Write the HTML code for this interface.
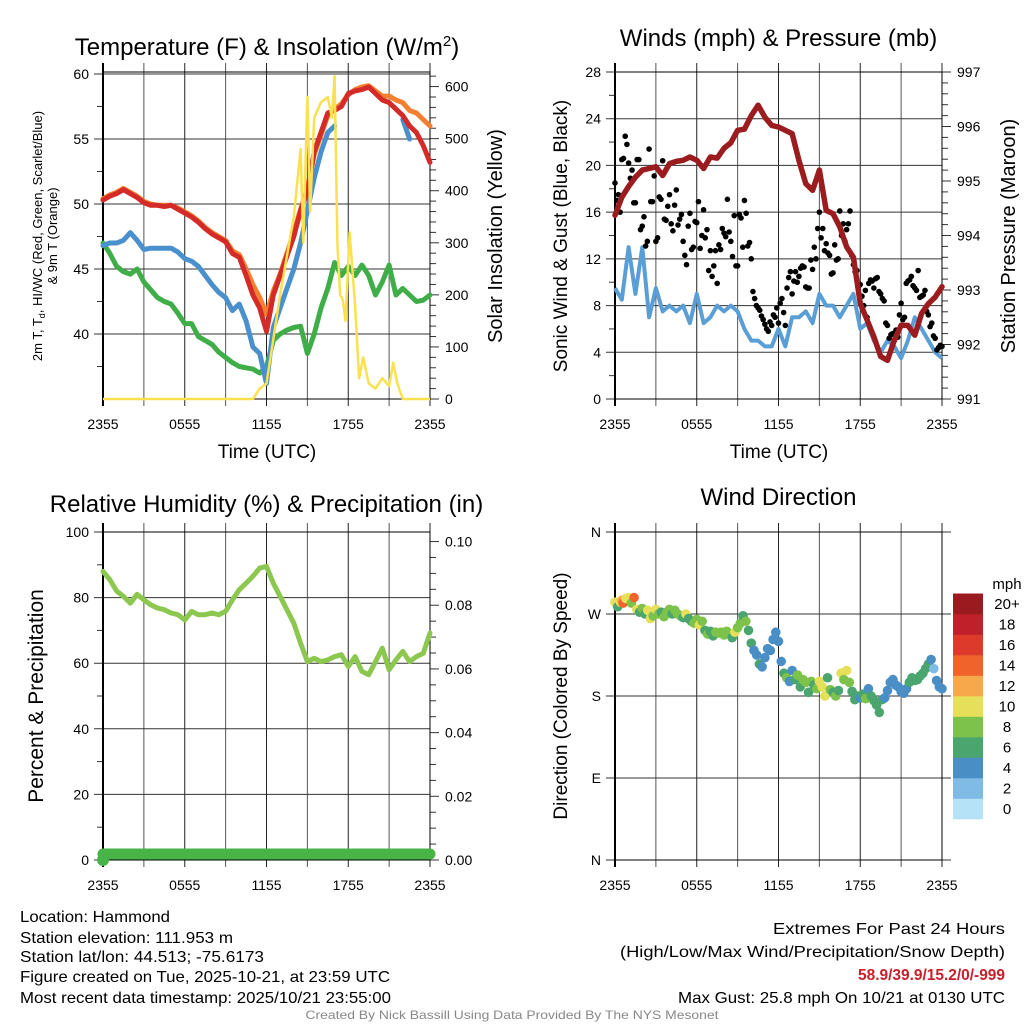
<!DOCTYPE html>
<html><head><meta charset="utf-8">
<style>
html,body{margin:0;padding:0;background:#fff;}
svg{display:block;font-family:"Liberation Sans",sans-serif;}
</style></head>
<body>
<svg id="chart" width="1024" height="1024" viewBox="0 0 1024 1024" xmlns="http://www.w3.org/2000/svg">
<rect width="1024" height="1024" fill="#fff"/>
</svg>
<script>
// ---------- data ----------
const timeTicks = ["2355","0555","1155","1755","2355"];
const halfHours = Array.from({length:49},(_, i)=>i*0.5);
const tempRed = [50.3,50.6,50.8,51.1,50.8,50.5,50.1,49.9,49.9,49.8,49.9,49.6,49.3,49.0,48.6,48.1,47.7,47.4,47.1,46.2,45.9,44.5,43.0,42.0,40.2,43.0,44.5,46.0,47.5,49.5,51.0,54.0,55.5,57.0,57.2,57.5,58.5,58.7,58.8,59.0,58.5,58.0,57.8,57.3,56.8,56.0,55.5,54.5,53.2];
const tempOrange = [50.4,50.7,50.9,51.2,50.9,50.6,50.2,50.0,49.9,49.9,49.9,49.7,49.4,49.1,48.7,48.2,47.8,47.5,47.2,46.4,46.1,45.0,43.8,42.8,41.5,43.3,44.6,46.2,47.8,49.6,51.2,53.8,55.3,56.8,57.3,57.7,58.4,58.8,59.0,59.1,58.7,58.3,58.3,58.0,57.8,57.2,57.0,56.5,56.0];
const tempBlue = [46.8,47.0,47.0,47.2,47.8,47.2,46.5,46.6,46.6,46.6,46.6,46.3,45.8,45.6,45.2,44.5,43.8,43.2,42.8,41.8,42.3,41.0,39.0,38.5,36.2,40.5,42.0,43.5,45.0,47.0,49.5,52.0,54.0,55.5,56.0,null,null,null,null,null,null,null,null,null,56.5,55.0,null,null,null];
const tempGreen = [47.0,46.2,45.2,44.8,44.6,45.0,44.0,43.4,42.8,42.5,42.3,41.6,40.8,40.8,39.8,39.5,39.2,38.6,38.2,37.8,37.5,37.4,37.3,37.0,37.5,39.5,40.0,40.3,40.5,40.6,38.5,40.0,42.0,43.5,45.5,44.5,45.2,44.5,45.3,44.5,43.0,44.0,45.3,43.0,43.5,43.0,42.5,42.6,43.0];
const solarTimes = [0,11,11.5,12,13,14,14.5,14.7,15,15.2,15.5,16,16.5,16.8,17,17.2,17.4,17.6,17.8,18.1,18.5,18.8,19.1,19.5,20,20.5,21,21.3,21.6,22,24];
const solarValues = [0,0,20,30,200,350,480,300,580,360,540,570,580,540,620,300,200,190,150,320,180,40,80,30,20,40,25,70,30,0,0];
const pressure = [994.37,994.7,994.9,995.07,995.2,995.23,995.26,995.1,995.32,995.36,995.38,995.44,995.38,995.23,995.44,995.42,995.6,995.7,995.93,995.95,996.2,996.39,996.17,996.02,995.99,995.93,995.87,995.38,994.95,994.83,995.2,994.46,994.4,994.16,993.79,993.6,992.75,992.45,992.14,991.78,991.71,992.08,992.35,992.35,992.17,992.57,992.75,992.87,993.06];
const windSpeed = [9.5,8.5,13,9,13,7,9.5,7.5,8,7.5,8,6.5,9,6.5,7,8,7.5,8,7.5,6,5,5,4.5,4.5,6,4.5,7,7,7.5,6.5,9,8,8,7,8,9,6,6.5,5,4,5,4.5,3.5,5,7,6,5,4,3.5];
const gustTimes = Array.from({length:97},(_, i)=>i*0.25);
const gustValues = [18.5,17.5,20.5,22.5,20.2,19.6,16.8,20.5,14.8,13.1,21.4,16.9,13.5,17.3,20.4,15.3,17.5,14.4,17.9,15.4,13.5,11.5,15.9,13.0,15.1,12.9,16.2,14.5,12.7,11.4,9.9,12.8,14.2,17.1,13.5,15.7,11.4,15.5,17.0,13.1,12.0,8.6,7.8,7.1,6.4,5.8,6.3,7.0,6.5,8.6,6.3,10.4,9.0,10.9,10.5,11.4,9.6,9.5,11.1,12.0,16.0,14.6,13.3,12.3,10.8,11.9,16.1,15.0,14.5,16.1,11.5,11.0,9.8,8.0,7.0,10.2,9.5,10.4,9.0,8.4,6.3,5.5,5.0,5.3,8.2,7.0,10.1,10.5,9.5,11.0,8.8,9.3,7.2,6.5,5.2,4.4,4.5];
const gustTimes2 = Array.from({length:96},(_, i)=>0.125+i*0.25);
const gustValues2 = [17,16,20.6,21.8,18.9,16.8,20.5,14.5,15.6,13.5,16.9,19.1,13.8,17.1,15.4,16.5,15.0,16.6,14.9,15.8,12.3,14.8,12.8,15.2,16.9,14.0,13.8,11.0,10.5,12.7,13.2,14.6,13.9,14.3,12.2,11.4,15.8,13.0,15.9,13.4,9.2,8.0,7.6,6.8,6.0,6.6,7.2,7.8,8.2,7.4,9.5,10.9,10.1,10.0,11.2,11.3,9.5,11.9,13.0,14.6,13.8,12.7,12.5,10.7,13.2,12.0,14.0,13.5,15.0,12.3,10.9,9.6,8.8,9.3,9.9,10.1,10.3,9.2,8.6,6.5,5.2,5.6,5.9,7.2,6.8,9.9,10.2,9.7,9.3,8.7,8.9,7.5,6.2,5.4,4.2,4.6];
const rhValues = [88,85.5,82,80.4,78.3,81,79.3,77.8,76.8,76.3,75.3,74.8,73.2,75.8,74.8,74.8,75.3,74.8,75.8,79.3,82.4,84.4,86.5,89,89.5,84.4,80.4,76.3,72.2,66.1,60.5,61.5,60.5,61,62,62.6,59,62,57.5,56.5,60.5,64.6,58,61,63.6,60.5,62,63,69.2];
const precipValues = halfHours.map(()=>0);
const dirTimes = [0,0.2,0.4,0.5,0.6,0.8,1.0,1.2,1.4,1.6,1.8,2.0,2.2,2.4,2.6,2.8,3.0,3.2,3.4,3.6,3.8,4.0,4.2,4.4,4.6,4.8,5.0,5.2,5.4,5.6,5.8,6.0,6.2,6.4,6.6,6.8,7.0,7.2,7.4,7.6,7.8,8.0,8.2,8.4,8.6,8.8,9.0,9.2,9.4,9.6,9.8,10.0,10.2,10.4,10.6,10.8,11.0,11.2,11.4,11.6,11.8,12.0,12.2,12.4,12.6,12.8,13.0,13.2,13.4,13.6,13.8,14.0,14.2,14.4,14.6,14.8,15.0,15.2,15.4,15.6,15.8,16.0,16.2,16.4,16.6,16.8,17.0,17.2,17.4,17.6,17.8,18.0,18.2,18.4,18.6,18.8,19.0,19.2,19.4,19.6,19.8,20.0,20.2,20.4,20.6,20.8,21.0,21.2,21.4,21.6,21.8,22.0,22.2,22.4,22.6,22.8,23.0,23.2,23.4,23.6,23.8,24.0];
const dirDegrees = [283,278,283,285,282,287,288,282,288,275,272,276,270,274,265,268,275,270,272,267,272,275,270,274,270,268,266,270,265,262,260,264,258,262,252,248,251,246,250,249,250,247,251,248,244,250,255,260,268,262,252,238,230,225,215,212,222,232,230,242,250,240,218,205,200,196,208,198,203,190,198,195,184,196,192,188,196,190,180,200,187,184,180,186,205,198,208,195,185,176,180,178,182,177,188,180,175,170,162,176,178,186,195,198,192,190,185,183,188,195,200,197,198,202,205,210,215,220,210,197,190,188];
const dirSpeeds = [10,6,10,12,15,10,10,8,14,10,6,8,6,10,10,8,10,8,6,8,8,8,6,8,8,8,6,10,6,6,8,8,10,8,6,8,6,6,8,8,8,8,8,8,6,10,8,8,6,8,6,6,4,4,6,4,4,4,4,4,4,4,4,6,8,4,4,6,8,6,8,8,6,8,6,8,10,10,10,6,8,6,8,6,10,8,10,8,6,6,6,4,6,8,4,6,6,6,6,6,4,4,4,4,4,4,4,4,4,6,6,6,6,6,6,6,6,4,2,4,4,4];
const speedLabels = ["0","2","4","6","8","10","12","14","16","18","20+"];
const speedColors = ["#b5e2f7","#7fbbe5","#4a8ec6","#4aa56f","#7dc24b","#e6df5a","#f6a84a","#f0642c","#de3a2c","#c0202a","#9b1a1f"];

// ---------- helpers ----------
const NS="http://www.w3.org/2000/svg";
const svg=document.getElementById('chart');
function mk(tag,attrs,parent){const e=document.createElementNS(NS,tag);for(const k in attrs)e.setAttribute(k,attrs[k]);(parent||svg).appendChild(e);return e;}
function txt(s,x,y,size,anchor,parent,extra){const t=mk('text',Object.assign({x:x,y:y,'font-size':size,'text-anchor':anchor||'middle',fill:'#000'},extra||{}),parent);t.textContent=s;return t;}
function linePath(xs,ys,sx,sy){let d='',pen=false;for(let i=0;i<xs.length;i++){if(ys[i]===null){pen=false;continue;}d+=(pen?'L':'M')+sx(xs[i]).toFixed(1)+','+sy(ys[i]).toFixed(1);pen=true;}return d;}

function panel(p){
  const g=mk('g',{});
  
  
  const sx=h=>p.x0+h/24*(p.x1-p.x0);
  const sy=v=>p.y1-(v-p.lmin)/(p.lmax-p.lmin)*(p.y1-p.y0);
  const sr=p.rmin!==undefined?(v=>p.y1-(v-p.rmin)/(p.rmax-p.rmin)*(p.y1-p.y0)):null;
  for(let h=0;h<=24;h+=3){const l=mk('line',{x1:sx(h),x2:sx(h),y1:p.y0-9,y2:p.y1+7,stroke:h%6===0?'#222':'#555','stroke-width':1},g);
    }
  p.lticks.forEach((v,i)=>{const y=sy(v);
    const gl=mk('line',{x1:p.x0-9,x2:p.x1+(p.rmin===undefined?9:0),y1:y,y2:y,stroke:'#333','stroke-width':1},g);
    
    const t=txt(p.llabels[i],p.x0-14,y+5,14,'end',g);});
  (p.lminor||[]).forEach(v=>{const y=sy(v);mk('line',{x1:p.x0-6,x2:p.x0,y1:y,y2:y,stroke:'#333'},g);});
  if(sr){p.rticks.forEach((v,i)=>{const y=sr(v);mk('line',{x1:p.x1,x2:p.x1+9,y1:y,y2:y,stroke:'#333'},g);
      const t=txt(p.rlabels[i],p.x1+15,y+5,14,'start',g);});
    (p.rminor||[]).forEach(v=>{const y=sr(v);mk('line',{x1:p.x1,x2:p.x1+6,y1:y,y2:y,stroke:'#333'},g);});}
  mk('rect',{x:p.x0,y:p.y0,width:p.x1-p.x0,height:p.y1-p.y0,fill:'none',stroke:'#000','stroke-width':1},g);
  mk('line',{x1:p.x0,x2:p.x0,y1:p.y0-9,y2:p.y1+7,stroke:'#000','stroke-width':2},g);
  timeTicks.forEach((s,i)=>{const t=txt(s,sx(i*6),p.y1+30,14,'middle',g);});
  if(p.title){const tt=txt(p.title,(p.x0+p.x1)/2,p.titleY,p.titleSize||24,'middle',g);
  }
  return {g,sx,sy,sr};
}

// ---------- Panel 1: temperature ----------
{
 const P=panel({name:'temperature-panel',x0:103,x1:430,y0:72,y1:399,lmin:35,lmax:60.15,rmin:0,rmax:628,
  lticks:[40,45,50,55,60],llabels:['40','45','50','55','60'],lminor:[37.5,42.5,47.5,52.5,57.5],
  rticks:[0,100,200,300,400,500,600],rlabels:['0','100','200','300','400','500','600'],
  rminor:[20,40,60,80,120,140,160,180,220,240,260,280,320,340,360,380,420,440,460,480,520,540,560,580,620],
  title:'',titleY:55});
 const tt=txt('',267,55,24,'middle',P.g);
 tt.innerHTML='Temperature (F) &amp; Insolation (W/m<tspan dy="-9" font-size="15">2</tspan><tspan dy="9">)</tspan>';
 const series=[[tempGreen,'#3fae49','dewpoint-line'],[tempBlue,'#4a90cc','heat-index-windchill-line'],[tempOrange,'#f28030','temp-9m-line'],[tempRed,'#d42a28','temp-2m-line']];
 series.forEach(s=>{const pth=mk('path',{d:linePath(halfHours,s[0],P.sx,P.sy),fill:'none',stroke:s[1],'stroke-width':5,'stroke-linejoin':'round','stroke-linecap':'round'},P.g);
   });
 const sol=mk('path',{d:linePath(solarTimes,solarValues,P.sx,P.sr),fill:'none',stroke:'#fbe04f','stroke-width':2.5,'stroke-linejoin':'round'},P.g);
 
 const xt=txt('Time (UTC)',267,458,19,'middle',P.g);
 const yl=txt('2m T, T',0,0,13,'middle',P.g,{transform:'translate(42,236) rotate(-90)'});
 yl.innerHTML='2m T, T<tspan dy="3" font-size="9">d</tspan><tspan dy="-3">, HI/WC (Red, Green, Scarlet/Blue)</tspan>';
 const yl2=txt('& 9m T (Orange)',0,0,13,'middle',P.g,{transform:'translate(57,236) rotate(-90)'});
 const yr=txt('Solar Insolation (Yellow)',0,0,20,'middle',P.g,{transform:'translate(502,236) rotate(-90)'});
}
// ---------- Panel 2: winds ----------
{
 const P=panel({name:'winds-panel',x0:615,x1:942,y0:72,y1:399,lmin:0,lmax:28,rmin:991,rmax:997,
  lticks:[0,4,8,12,16,20,24,28],llabels:['0','4','8','12','16','20','24','28'],lminor:[2,6,10,14,18,22,26],
  rticks:[991,992,993,994,995,996,997],rlabels:['991','992','993','994','995','996','997'],
  rminor:[991.2,991.4,991.6,991.8,992.2,992.4,992.6,992.8,993.2,993.4,993.6,993.8,994.2,994.4,994.6,994.8,995.2,995.4,995.6,995.8,996.2,996.4,996.6,996.8],
  title:'Winds (mph) & Pressure (mb)',titleY:46});
 const w=mk('path',{d:linePath(halfHours,windSpeed,P.sx,P.sy),fill:'none',stroke:'#5a9ed6','stroke-width':4,'stroke-linejoin':'round'},P.g);
 
 gustTimes.forEach((t,i)=>{const c=mk('circle',{cx:P.sx(t),cy:P.sy(gustValues[i]),r:2.8,fill:'#000'},P.g);
   });
 gustTimes2.forEach((t,i)=>{const c=mk('circle',{cx:P.sx(t),cy:P.sy(gustValues2[i]),r:2.8,fill:'#000'},P.g);
   });
 const pr=mk('path',{d:linePath(halfHours,pressure,P.sx,P.sr),fill:'none',stroke:'#9b1c1f','stroke-width':5.5,'stroke-linejoin':'round','stroke-linecap':'round'},P.g);
 
 const xt=txt('Time (UTC)',779,458,19,'middle',P.g);
 const yl=txt('Sonic Wind & Gust (Blue, Black)',0,0,19,'middle',P.g,{transform:'translate(567,236) rotate(-90)'});
 const yr=txt('Station Pressure (Maroon)',0,0,20,'middle',P.g,{transform:'translate(1015,236) rotate(-90)'});
}
// ---------- Panel 3: RH ----------
{
 const P=panel({name:'humidity-panel',x0:103,x1:430,y0:532,y1:860,lmin:0,lmax:100,rmin:0,rmax:0.103,
  lticks:[0,20,40,60,80,100],llabels:['0','20','40','60','80','100'],lminor:[10,30,50,70,90],
  rticks:[0,0.02,0.04,0.06,0.08,0.10],rlabels:['0.00','0.02','0.04','0.06','0.08','0.10'],
  rminor:[0.005,0.01,0.015,0.025,0.03,0.035,0.045,0.05,0.055,0.065,0.07,0.075,0.085,0.09,0.095],
  title:'Relative Humidity (%) & Precipitation (in)',titleY:512});
 const rh=mk('path',{d:linePath(halfHours,rhValues,P.sx,P.sy),fill:'none',stroke:'#8cc850','stroke-width':5,'stroke-linejoin':'round','stroke-linecap':'round'},P.g);
 
 const pc=mk('path',{d:linePath(halfHours,precipValues,P.sx,P.sr),fill:'none',stroke:'#48b447','stroke-width':11,'stroke-linecap':'round',transform:'translate(0,-6)'},P.g);
 
 const d0=mk('circle',{cx:P.sx(0),cy:P.sr(precipValues[0]),r:6,fill:'#48b447'},P.g);
 const yl=txt('Percent & Precipitation',0,0,21,'middle',P.g,{transform:'translate(43,696) rotate(-90)'});
}
// ---------- Panel 4: wind direction ----------
{
 const P=panel({name:'wind-direction-panel',x0:615,x1:942,y0:532,y1:860,lmin:0,lmax:360,
  lticks:[0,90,180,270,360],llabels:['N','E','S','W','N'],
  title:'Wind Direction',titleY:505});
 dirTimes.forEach((t,i)=>{const idx=Math.min(10,Math.floor(dirSpeeds[i]/2));
   const c=mk('circle',{cx:P.sx(t),cy:P.sy(dirDegrees[i]),r:4.8,fill:speedColors[idx]},P.g);
   });
 const yl=txt('Direction (Colored By Speed)',0,0,19,'middle',P.g,{transform:'translate(567,696) rotate(-90)'});
 const lg=mk('g',{},P.g);
 const u=txt('mph',1007,589,15,'middle',lg);
 const bh=20.5;
 speedColors.forEach((c,i)=>{const y=819-(i+1)*bh;
   const r=mk('rect',{x:953,y:y,width:30,height:bh+0.3,fill:c},lg);
   const t=txt(speedLabels[i],1007,y+bh/2+5,15,'middle',lg);});
}
// ---------- footer ----------
{
 const f=mk('g',{'font-size':16});
 const left=["Location: Hammond","Station elevation: 111.953 m","Station lat/lon: 44.513; -75.6173","Figure created on Tue, 2025-10-21, at 23:59 UTC","Most recent data timestamp: 2025/10/21 23:55:00"];
 const lw=[150,213,244,370,371];
 const ly=[922,943,962,982,1003];
 left.forEach((s,i)=>{const t=txt(s,20,ly[i],16,'start',f,{textLength:lw[i],lengthAdjust:'spacingAndGlyphs'});});
 const r1=txt('Extremes For Past 24 Hours',1005,934,16,'end',f,{textLength:232,lengthAdjust:'spacingAndGlyphs'});
 const r2=txt('(High/Low/Max Wind/Precipitation/Snow Depth)',1005,957,16,'end',f,{textLength:385,lengthAdjust:'spacingAndGlyphs'});
 const r3=txt('58.9/39.9/15.2/0/-999',1005,980,16,'end',f,{fill:'#c8202a','font-weight':'bold',textLength:147,lengthAdjust:'spacingAndGlyphs'});
 const r4=txt('Max Gust: 25.8 mph On 10/21 at 0130 UTC',1005,1003,16,'end',f,{textLength:327,lengthAdjust:'spacingAndGlyphs'});
 const cr=txt('Created By Nick Bassill Using Data Provided By The NYS Mesonet',512,1019,12,'middle',f,{fill:'#888',textLength:413,lengthAdjust:'spacingAndGlyphs'});
}
</script>
</body></html>
